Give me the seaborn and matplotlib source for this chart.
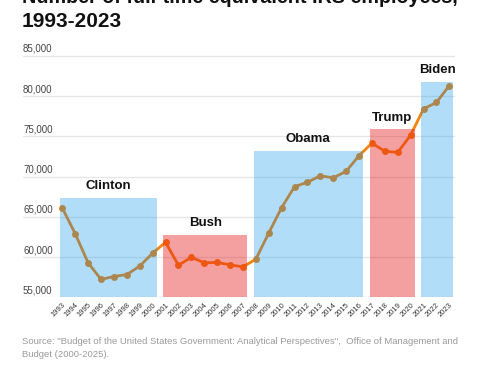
import matplotlib
matplotlib.use('Agg')
import matplotlib.pyplot as plt
import seaborn as sns
import pandas as pd
from matplotlib.transforms import blended_transform_factory, offset_copy

# ---- data ----
years = list(range(1993, 2024))
employees = [66100, 62900, 59300, 57250, 57600, 57850, 58900, 60500,
             61850, 59000, 60000, 59300, 59350, 59050, 58800,
             59750, 63000, 66150, 68750, 69300, 70100, 69850, 70650, 72600,
             74150, 73150, 73000, 75150,
             78400, 79200, 81300]
presidents = ['Clinton', 'Bush', 'Obama', 'Trump', 'Biden']
term_start = [1993, 2001, 2008, 2017, 2021]
term_end = [2000, 2007, 2016, 2020, 2023]
band_top = [67400, 62750, 73200, 75900, 81750]
party = ['D', 'R', 'D', 'R', 'D']
y_ticks = [55000, 60000, 65000, 70000, 75000, 80000, 85000]
title_lines = ['Number of full-time equivalent IRS employees,', '1993-2023']
source_lines = ['Source: "Budget of the United States Government: Analytical Perspectives",  Office of Management and',
                'Budget (2000-2025).']

df = pd.DataFrame({'year': years, 'employees': employees})

sns.set_theme(style='white')
plt.rcParams['font.family'] = ['Liberation Sans', 'DejaVu Sans']

fig = plt.figure(figsize=(4.8, 3.75), dpi=100)
ax = fig.add_axes([23 / 480, 0.2067, 0.9, 0.6576])

orange = '#f5820a'
party_color = {'D': '#0291ee', 'R': '#e51d1d'}
party_alpha = {'D': 0.30, 'R': 0.42}

sns.lineplot(data=df, x='year', y='employees', color=orange, marker='o',
             markersize=5, markeredgewidth=0, linewidth=2, ax=ax, zorder=2)

for name, s, e, top, p in zip(presidents, term_start, term_end, band_top, party):
    left = s - 0.18
    right = e + 0.32
    ax.bar((left + right) / 2, top, width=right - left, color=party_color[p],
           alpha=party_alpha[p], linewidth=0, zorder=3)
    ax.annotate(name, xy=((left + right) / 2, top), xytext=(0, 4),
                textcoords='offset points', ha='center', va='bottom',
                fontsize=9.5, fontweight='bold', color='#111111', zorder=4)

ax.set_xlim(1989.95, 2023.44)
ax.set_ylim(55000, 85600)
ax.set_yticks(y_ticks)
ax.set_yticklabels([])
ax.tick_params(axis='y', length=0)
ax.grid(axis='y', color='#e6e6e6', linewidth=1, zorder=0)
ax.grid(axis='x', visible=False)
ax.set_axisbelow(True)
for sp in ax.spines.values():
    sp.set_visible(False)

trans = offset_copy(blended_transform_factory(ax.transAxes, ax.transData),
                    fig=fig, x=0, y=2, units='dots')
for t in y_ticks:
    ax.text(0, t, f'{t:,}', transform=trans, ha='left', va='bottom',
            fontsize=7, color='#444444')

ax.set_xticks(years)
ax.set_xticklabels([str(y) for y in years], rotation=45, ha='right',
                   rotation_mode='anchor', fontsize=5.5, color='#333333')
ax.tick_params(axis='x', length=0, pad=3)
ax.set_xlabel('')
ax.set_ylabel('')

fig.text(22 / 480, 1 - 3 / 375, title_lines[0], fontsize=14.2, fontweight='bold',
         color='#111111', ha='left', va='baseline')
fig.text(22 / 480, 1 - 27 / 375, title_lines[1], fontsize=15, fontweight='bold',
         color='#111111', ha='left', va='baseline')

fig.text(22 / 480, 1 - 344 / 375, source_lines[0], fontsize=6.8,
         color='#9a9a9a', ha='left', va='baseline')
fig.text(22 / 480, 1 - 357 / 375, source_lines[1], fontsize=6.8,
         color='#9a9a9a', ha='left', va='baseline')

fig.savefig('out.png', dpi=100)
